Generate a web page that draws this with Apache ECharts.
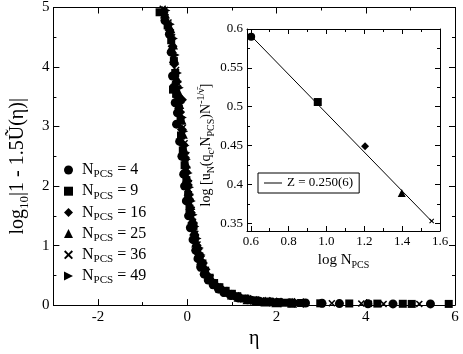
<!DOCTYPE html>
<html>
<head>
<meta charset="utf-8">
<script src="https://cdn.jsdelivr.net/npm/echarts@6/dist/echarts.min.js"></script>
<style>
  html, body { margin: 0; padding: 0; background: #fff; }
  #chart { width: 463px; height: 354px; }
</style>
</head>
<body>
<div id="chart"></div>
<script>
// main panel: [eta, log10|1 - 1.5U|] per N_PCS
const n4 = [[-0.5,4.78],[-0.4,4.55],[-0.36,4.25],[-0.33,3.85],[-0.3,3.66],[-0.27,3.4],[-0.22,3.23],[-0.24,3.04],[-0.17,2.75],[-0.12,2.5],[-0.08,2.2],[-0.06,2.0],[-0.02,1.75],[0.03,1.5],[0.07,1.3],[0.13,1.1],[0.19,0.92],[0.24,0.78],[0.3,0.64],[0.38,0.52],[0.47,0.42],[0.58,0.34],[0.7,0.27],[0.82,0.21],[0.98,0.16],[1.15,0.12],[1.35,0.09],[1.62,0.065],[1.9,0.05],[2.3,0.04],[2.65,0.035],[3.02,0.03],[3.41,0.025],[4.05,0.022],[4.61,0.02],[5.45,0.02]];
const n9 = [[-0.62,4.92],[-0.44,4.7],[-0.36,4.45],[-0.3,4.1],[-0.27,3.9],[-0.32,3.62],[-0.25,3.55],[-0.19,3.3],[-0.15,3.1],[-0.14,2.85],[-0.1,2.6],[-0.06,2.35],[-0.02,2.1],[0.02,1.85],[0.05,1.62],[0.14,1.33],[0.17,1.12],[0.22,0.95],[0.27,0.82],[0.34,0.7],[0.4,0.58],[0.5,0.46],[0.6,0.37],[0.72,0.3],[0.86,0.24],[1.0,0.19],[1.12,0.15],[1.3,0.11],[1.5,0.08],[1.78,0.06],[2.05,0.05],[2.21,0.04],[2.55,0.035],[2.98,0.03],[3.63,0.027],[4.26,0.025],[4.83,0.022],[5.03,0.02],[5.86,0.02]];
const n16 = [[-0.52,4.88],[-0.4,4.62],[-0.33,4.35],[-0.29,4.05],[-0.24,3.75],[-0.22,3.5],[-0.12,3.45],[-0.17,3.25],[-0.12,2.95],[-0.09,2.7],[-0.05,2.45],[-0.04,2.25],[0.01,2.02],[0.04,1.78],[0.08,1.55],[0.11,1.38],[0.16,1.18],[0.21,1.0],[0.26,0.86],[0.31,0.74],[0.37,0.62],[0.45,0.5],[0.55,0.4],[0.66,0.32],[0.78,0.26],[0.9,0.2],[1.05,0.16],[1.2,0.12],[1.42,0.09],[1.6,0.07],[1.85,0.055],[2.1,0.045],[2.4,0.04],[2.6,0.035]];
const n25 = [[-0.5,4.9],[-0.38,4.65],[-0.32,4.38],[-0.3,4.15],[-0.24,3.82],[-0.2,3.58],[-0.18,3.38],[-0.13,3.12],[-0.1,2.88],[-0.07,2.62],[-0.03,2.38],[0.0,2.15],[0.03,1.92],[0.07,1.68],[0.12,1.45],[0.16,1.25],[0.2,1.05],[0.26,0.88],[0.31,0.76],[0.36,0.65],[0.44,0.54],[0.53,0.44],[0.63,0.36],[0.74,0.29],[0.88,0.23],[1.0,0.18],[1.15,0.14],[1.35,0.1],[1.55,0.075],[1.75,0.06],[2.0,0.048],[2.35,0.04]];
const n36 = [[-0.55,4.98],[-0.5,4.96],[-0.42,4.75],[-0.34,4.5],[-0.31,4.28],[-0.25,3.95],[-0.2,3.72],[-0.17,3.46],[-0.13,3.2],[-0.1,2.98],[-0.06,2.72],[-0.02,2.52],[0.0,2.28],[0.04,2.05],[0.07,1.82],[0.1,1.6],[0.13,1.4],[0.18,1.2],[0.23,1.02],[0.27,0.9],[0.32,0.78],[0.38,0.66],[0.44,0.56],[0.52,0.46],[0.62,0.38],[0.72,0.31],[0.84,0.25],[0.97,0.2],[1.1,0.15],[1.25,0.12],[1.4,0.09],[1.65,0.07],[1.95,0.05],[2.25,0.04],[2.5,0.035],[3.24,0.03],[3.9,0.025],[4.07,0.022],[4.4,0.02],[5.2,0.02]];
const n49 = [[-0.48,4.95],[-0.38,4.72],[-0.31,4.48],[-0.27,4.2],[-0.22,3.9],[-0.18,3.65],[-0.15,3.4],[-0.11,3.15],[-0.08,2.92],[-0.05,2.68],[-0.02,2.45],[0.02,2.22],[0.05,1.98],[0.09,1.75],[0.13,1.52],[0.17,1.32],[0.22,1.12],[0.27,0.96],[0.31,0.84],[0.36,0.72],[0.42,0.6],[0.5,0.49],[0.6,0.4],[0.7,0.33],[0.8,0.27],[0.94,0.22],[1.08,0.17],[1.22,0.13],[1.38,0.1],[1.55,0.08],[1.8,0.06],[2.1,0.05],[2.45,0.04]];
const sizes = ['4', '9', '16', '25', '36', '49'];

// inset: log u_N(q_c) N^(-1/nu) vs log N
const logN = [0.602, 0.954, 1.204, 1.398, 1.556];
const logU = [0.590, 0.506, 0.449, 0.389, 0.353];
const fitX = [0.6, 1.56];
const fitY = [0.5915, 0.3515];

const etaTicks = [-2, 0, 2, 4, 6];
const etaMinor = [-1, 1, 3, 5];
const insetXTicks = [0.6, 0.8, 1.0, 1.2, 1.4, 1.6];
const insetXMinor = [0.7, 0.9, 1.1, 1.3, 1.5];
const insetYTicks = [0.35, 0.4, 0.45, 0.5, 0.55, 0.6];
const insetYMinor = [0.375, 0.425, 0.475, 0.525, 0.575];

const serif = "'Liberation Serif', 'Times New Roman', serif";
const cross = 'path://M0,1.5L1.5,0L5,3.5L8.5,0L10,1.5L6.5,5L10,8.5L8.5,10L5,6.5L1.5,10L0,8.5L3.5,5Z';
const rightTri = 'path://M0,0L10,5L0,10Z';
const symbols = ['circle', 'rect', 'diamond', 'triangle', cross, rightTri];
const symSizes = [9, 8, 10, 10, 7, 9];

const black = '#000';

// tick labels go through rich text so the serif face sticks
function serifLabel(size, fmt) {
  return {
    fontFamily: serif, fontSize: size, color: black,
    formatter: v => '{t|' + (fmt ? fmt(v) : v) + '}',
    rich: { t: { fontFamily: serif, fontSize: size, color: black } }
  };
}

function tickAxis(grid, pos, min, max, values, len, labels) {
  return {
    type: 'value', gridIndex: grid, position: pos, min: min, max: max, z: 4,
    axisLine: { show: !!labels || len > 4, onZero: false, lineStyle: { color: black, width: 1 } },
    axisTick: { show: true, inside: true, length: len, customValues: values, lineStyle: { color: black } },
    axisLabel: labels ? Object.assign({ customValues: values }, labels) : { show: false },
    splitLine: { show: false }
  };
}

const xMain = tickAxis(0, 'bottom', -3, 6, etaTicks, 6, Object.assign(serifLabel(15), { margin: 4 }));
Object.assign(xMain, {
  name: 'η', nameLocation: 'middle', nameGap: 23,
  nameTextStyle: { fontFamily: serif, fontSize: 20, color: black }
});

const xInset = tickAxis(1, 'bottom', 0.58, 1.6, insetXTicks, 5,
  Object.assign(serifLabel(13, v => v.toFixed(1)), { margin: 4 }));
Object.assign(xInset, {
  name: '{n|log N}{s|PCS}', nameLocation: 'middle', nameGap: 17,
  nameTextStyle: {
    fontFamily: serif, fontSize: 15, color: black,
    rich: {
      n: { fontFamily: serif, fontSize: 15, color: black, lineHeight: 20, verticalAlign: 'middle' },
      s: { fontFamily: serif, fontSize: 10, color: black, lineHeight: 10, verticalAlign: 'bottom' }
    }
  }
});

const yMainLeft = {
  type: 'value', gridIndex: 0, position: 'left', min: 0, max: 5, interval: 1,
  axisLine: { show: true, onZero: false, lineStyle: { color: black } },
  axisTick: { inside: true, length: 6, lineStyle: { color: black } },
  minorTick: { show: true, splitNumber: 2, length: 3, lineStyle: { color: black } },
  axisLabel: Object.assign(serifLabel(15), { margin: 4 }),
  splitLine: { show: false },
  name: '{n|log}{s|10}{n||1 - 1.5Ũ(η)|}', nameLocation: 'middle', nameGap: 16,
  nameTextStyle: {
    fontFamily: serif, fontSize: 20, color: black, padding: [0, 20, 0, 0],
    rich: {
      n: { fontFamily: serif, fontSize: 20, color: black, lineHeight: 26, verticalAlign: 'middle' },
      s: { fontFamily: serif, fontSize: 13, color: black, lineHeight: 14, verticalAlign: 'bottom' }
    }
  }
};
const yMainRight = Object.assign({}, yMainLeft, {
  position: 'right', axisLabel: { show: false }, name: ''
});

const yInset = tickAxis(1, 'left', 0.34, 0.6, insetYTicks, 5, Object.assign(serifLabel(13), { margin: 4 }));
Object.assign(yInset, {
  name: '{n|log [u}{s|N}{n|(q}{s|c}{n|,N}{s|PCS}{n|)N}{p|-1/ν̄}{n|]}',
  nameLocation: 'middle', nameGap: 19,
  nameTextStyle: {
    fontFamily: serif, fontSize: 14, color: black, padding: [0, 30, 0, 0],
    rich: {
      n: { fontFamily: serif, fontSize: 14, color: black, lineHeight: 20, verticalAlign: 'middle' },
      s: { fontFamily: serif, fontSize: 10, color: black, lineHeight: 10, verticalAlign: 'bottom' },
      p: { fontFamily: serif, fontSize: 10, color: black, lineHeight: 10, verticalAlign: 'top' }
    }
  }
});

const mainSeries = [n4, n9, n16, n25, n36, n49].map((d, i) => ({
  name: sizes[i], type: 'scatter', xAxisIndex: 0, yAxisIndex: 0,
  symbol: symbols[i], symbolSize: symSizes[i], data: d,
  itemStyle: { color: black, opacity: 1 }
}));

const insetSeries = [
  {
    name: 'inset', type: 'scatter', xAxisIndex: 4, yAxisIndex: 2, z: 5,
    data: logN.map((x, i) => ({ value: [x, logU[i]], symbol: symbols[i], symbolSize: i === 4 ? 5 : 8 })),
    itemStyle: { color: black, opacity: 1 }
  },
  {
    name: 'Z = 0.250(6)', type: 'line', xAxisIndex: 4, yAxisIndex: 2, z: 4,
    data: fitX.map((x, i) => [x, fitY[i]]), symbol: 'none',
    lineStyle: { color: black, width: 1 }, itemStyle: { color: black }
  }
];

const chart = echarts.init(document.getElementById('chart'), null, { renderer: 'canvas' });
chart.setOption({
  animation: false,
  backgroundColor: '#fff',
  textStyle: { fontFamily: serif, color: black },
  grid: [
    { left: 45, right: 8, top: 6, bottom: 38 },
    { left: 247, right: 23, top: 29, bottom: 123, show: true, backgroundColor: '#fff', borderWidth: 0, z: 1 }
  ],
  xAxis: [
    xMain,
    tickAxis(0, 'bottom', -3, 6, etaMinor, 3),
    tickAxis(0, 'top', -3, 6, etaTicks, 6),
    tickAxis(0, 'top', -3, 6, etaMinor, 3),
    xInset,
    tickAxis(1, 'bottom', 0.58, 1.6, insetXMinor, 3),
    tickAxis(1, 'top', 0.58, 1.6, insetXTicks, 5),
    tickAxis(1, 'top', 0.58, 1.6, insetXMinor, 3)
  ],
  yAxis: [
    yMainLeft,
    yMainRight,
    yInset,
    tickAxis(1, 'left', 0.34, 0.6, insetYMinor, 3),
    tickAxis(1, 'right', 0.34, 0.6, insetYTicks, 5),
    tickAxis(1, 'right', 0.34, 0.6, insetYMinor, 3)
  ],
  legend: [
    {
      data: sizes, orient: 'vertical', left: 59, top: 157,
      itemWidth: 9, itemHeight: 9, itemGap: 3.2, selectedMode: false,
      formatter: name => '{a|N}{s|PCS}{n| = ' + name + '}',
      textStyle: {
        color: black, fontFamily: serif, fontSize: 16,
        rich: {
          a: { fontFamily: serif, fontSize: 16, color: black, lineHeight: 20, verticalAlign: 'middle', padding: [0, 0, 0, 4] },
          n: { fontFamily: serif, fontSize: 16, color: black, lineHeight: 20, verticalAlign: 'middle' },
          s: { fontFamily: serif, fontSize: 11, color: black, lineHeight: 10, verticalAlign: 'bottom' }
        }
      }
    },
    {
      data: [{ name: 'Z = 0.250(6)', icon: 'rect' }], left: 258, top: 173, selectedMode: false,
      itemWidth: 18, itemHeight: 1, padding: [3, 6, 3, 6],
      borderColor: black, borderWidth: 1, backgroundColor: '#fff',
      textStyle: { color: black, fontFamily: serif, fontSize: 13, lineHeight: 14 }
    }
  ],
  series: mainSeries.concat(insetSeries)
});
</script>
</body>
</html>
